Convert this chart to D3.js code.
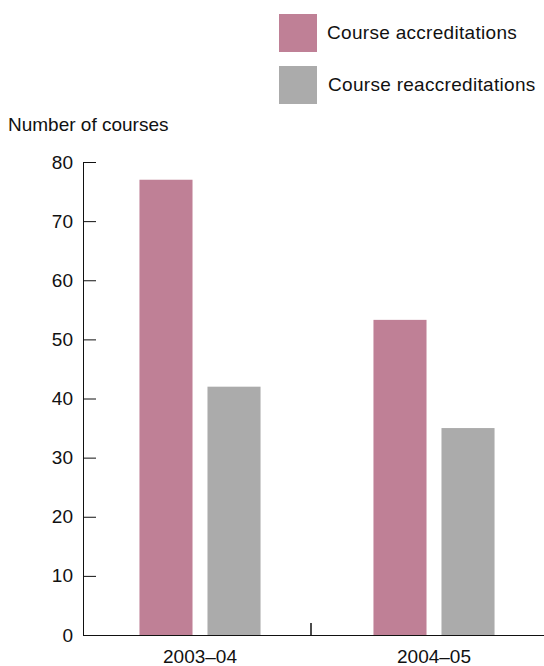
<!DOCTYPE html>
<html>
<head>
<meta charset="utf-8">
<script src="https://cdnjs.cloudflare.com/ajax/libs/d3/7.8.5/d3.min.js"></script>
<style>
  body { margin: 0; background: #fff; }
  text { font-family: "Liberation Sans", Arial, sans-serif; fill: #111; }
</style>
</head>
<body>
<div class="chart"></div>
<script>
const years = ['2003–04', '2004–05']
const seriesNames = ['Course accreditations', 'Course reaccreditations']
const accreditations = [77, 53.3]
const reaccreditations = [42, 35]
const yTicks = [0, 10, 20, 30, 40, 50, 60, 70, 80]
const colors = ['#bf8096', '#ababab']

const fullWidth = 544
const fullHeight = 666
const margin = {top: 162, right: 0, bottom: 31, left: 83}
const height = fullHeight - margin.top - margin.bottom
const fontSize = '19px'

const svg = d3.select('.chart')
    .append('svg')
    .attr('width', fullWidth)
    .attr('height', fullHeight)

const canvas = svg.append('g')
    .attr('transform', `translate(${margin.left}, ${margin.top})`)

const x0 = d3.scaleBand()
    .domain(years)
    .range([0, 468])
    .padding(0)

const x1 = d3.scaleBand()
    .domain(seriesNames)
    .range([0, x0.bandwidth()])
    .paddingInner(0.22)
    .paddingOuter(0.83)

const y = d3.scaleLinear()
    .domain([0, 80])
    .range([height, 0])

// bars
const rows = years.map((yr, i) => ({year: yr, values: [accreditations[i], reaccreditations[i]]}))

canvas.selectAll('.group')
    .data(rows)
    .enter().append('g')
        .attr('class', 'group')
        .attr('transform', d => `translate(${x0(d.year)}, 0)`)
    .selectAll('rect')
    .data(d => d.values.map((v, j) => ({name: seriesNames[j], value: v, color: colors[j]})))
    .enter().append('rect')
        .attr('x', d => x1(d.name))
        .attr('width', x1.bandwidth())
        .attr('y', d => y(d.value))
        .attr('height', d => height - y(d.value))
        .style('fill', d => d.color)

// y axis, ticks pointing inward
const yAxis = d3.axisLeft(y)
    .tickValues(yTicks)
    .tickSizeInner(-13)
    .tickSizeOuter(0)
    .tickPadding(10)

const yg = canvas.append('g').call(yAxis)
yg.selectAll('text').style('font-size', fontSize)
yg.selectAll('line, path').attr('stroke', '#111')

// x axis
const xAxis = d3.axisBottom(x0)
    .tickSize(0)
    .tickPadding(15)

const xg = canvas.append('g')
    .attr('transform', `translate(0, ${height})`)
    .call(xAxis)
xg.select('.domain').attr('d', `M0,0.5H${fullWidth - margin.left}`).attr('stroke', '#111').attr('stroke-width', 1.2)
xg.selectAll('text').style('font-size', fontSize)

// separator tick between the years
canvas.append('line')
    .attr('x1', x0(years[1]) - 6).attr('x2', x0(years[1]) - 6)
    .attr('y1', height - 12).attr('y2', height)
    .attr('stroke', '#111')
    .attr('stroke-width', 1.5)

// axis title
svg.append('text')
    .attr('x', 8)
    .attr('y', 131)
    .style('font-size', fontSize)
    .text('Number of courses')

// legend
const legend = svg.selectAll('.legend')
    .data(seriesNames)
    .enter().append('g')
        .attr('class', 'legend')
        .attr('transform', (d, i) => `translate(279, ${14 + i * 52})`)

legend.append('rect')
    .attr('width', 38)
    .attr('height', 38)
    .style('fill', (d, i) => colors[i])

legend.append('text')
    .attr('x', (d, i) => 48 + i)
    .attr('y', 25)
    .style('font-size', fontSize)
    .style('letter-spacing', '0.3px')
    .text(d => d)
</script>
</body>
</html>
